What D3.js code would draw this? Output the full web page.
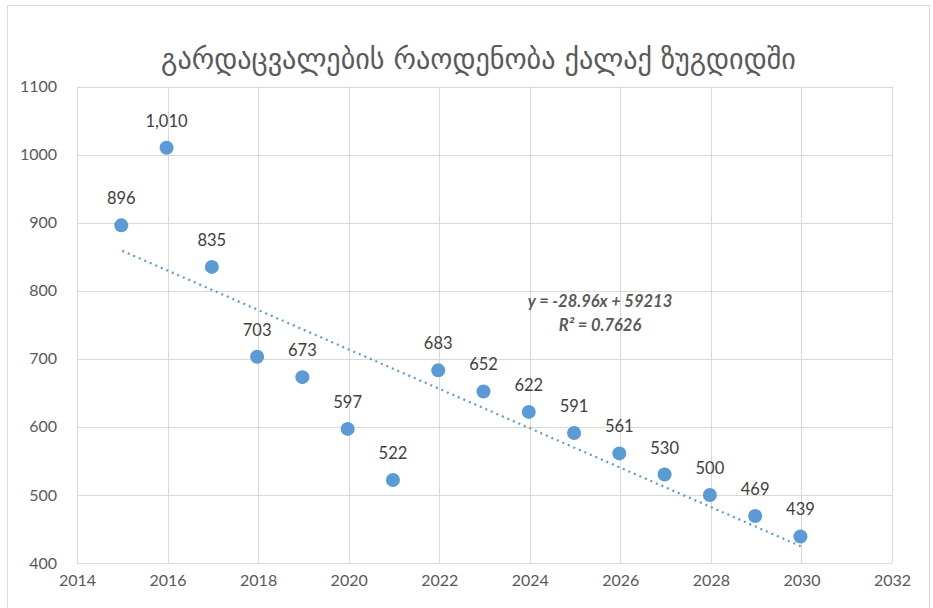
<!DOCTYPE html>
<html><head><meta charset="utf-8">
<script src="https://cdn.jsdelivr.net/npm/d3@7"></script>
<style>
html,body{margin:0;padding:0;background:#fff;}
svg{display:block;}
</style></head>
<body>
<svg id="c" width="933" height="608"></svg>
<script>
const titleText = "გარდაცვალების რაოდენობა ქალაქ ზუგდიდში";
const years = [2015,2016,2017,2018,2019,2020,2021,2022,2023,2024,2025,2026,2027,2028,2029,2030];
const deaths = [896,1010,835,703,673,597,522,683,652,622,591,561,530,500,469,439];
const xTicks = [2014,2016,2018,2020,2022,2024,2026,2028,2030,2032];
const yTicks = [400,500,600,700,800,900,1000,1100];
const trendX = [2015,2030];
const trendY = [858.6,424.2];
const eqLines = ["y = -28.96x + 59213","R² = 0.7626"];

const svg = d3.select("#c");
const W=933,H=608;
const m = {left:77,right:892,top:86.5,bottom:563};
const x = d3.scaleLinear().domain([2014,2032]).range([m.left,m.right]);
const y = d3.scaleLinear().domain([400,1100]).range([m.bottom,m.top]);
const blue="#5B9BD5", txt="#595959", grid="#D9D9D9";
const numFont="Lato, 'Open Sans', sans-serif";

svg.append("rect").attr("x",7.5).attr("y",5.5).attr("width",922).attr("height",604)
  .attr("fill","#fff").attr("stroke","#D9D9D9").attr("stroke-width",1);

// title
const t = svg.append("text").attr("x",(W)/2+12).attr("y",69).attr("text-anchor","middle")
  .attr("font-family","'DejaVu Sans', sans-serif").attr("font-size",28).attr("fill",txt).text(titleText);
const tw = t.node().getComputedTextLength();
t.attr("font-size", 28*635/tw);

// grid
const g = svg.append("g");
g.selectAll("line.h").data(yTicks).enter().append("line")
  .attr("x1",m.left).attr("x2",m.right).attr("y1",d=>Math.round(y(d))+0.5).attr("y2",d=>Math.round(y(d))+0.5)
  .attr("stroke",grid).attr("stroke-width",1);
g.selectAll("line.v").data(xTicks).enter().append("line")
  .attr("y1",m.top).attr("y2",m.bottom).attr("x1",d=>Math.round(x(d))+0.5).attr("x2",d=>Math.round(x(d))+0.5)
  .attr("stroke",grid).attr("stroke-width",1);

// axes labels via d3 axes
const ya = svg.append("g").attr("transform",`translate(${m.left},0)`)
  .call(d3.axisLeft(y).tickValues(yTicks).tickFormat(d3.format("d")).tickSize(0).tickPadding(20));
const xa = svg.append("g").attr("transform",`translate(0,${m.bottom})`)
  .call(d3.axisBottom(x).tickValues(xTicks).tickFormat(d3.format("d")).tickSize(0).tickPadding(12));
[ya,xa].forEach(a=>{a.select(".domain").remove();
  a.selectAll("text").attr("fill",txt).attr("font-family",numFont).attr("font-size",16);});

// trendline
svg.append("path").datum(trendX.map((d,i)=>[d,trendY[i]]))
  .attr("d",d3.line().x(d=>x(d[0])).y(d=>y(d[1])))
  .attr("fill","none").attr("stroke",blue).attr("stroke-width",2.2)
  .attr("stroke-dasharray","2 4");

// points
svg.selectAll("circle.p").data(years).enter().append("circle")
  .attr("cx",d=>x(d)-1).attr("cy",(d,i)=>y(deaths[i])).attr("r",7).attr("fill",blue);

// labels
svg.selectAll("text.l").data(years).enter().append("text")
  .attr("x",d=>x(d)-1).attr("y",(d,i)=>y(deaths[i])-21).attr("text-anchor","middle")
  .attr("font-family",numFont).attr("font-size",16.5).attr("fill","#404040")
  .text((d,i)=>d3.format(",")(deaths[i]));

// equation
svg.selectAll("text.eq").data(eqLines).enter().append("text")
  .attr("x",600).attr("y",(d,i)=>307+i*23.5).attr("text-anchor","middle")
  .attr("font-family",numFont).attr("font-size",16.5).attr("font-weight","bold").attr("font-style","italic")
  .attr("fill",txt).text(d=>d);
</script>
</body></html>
